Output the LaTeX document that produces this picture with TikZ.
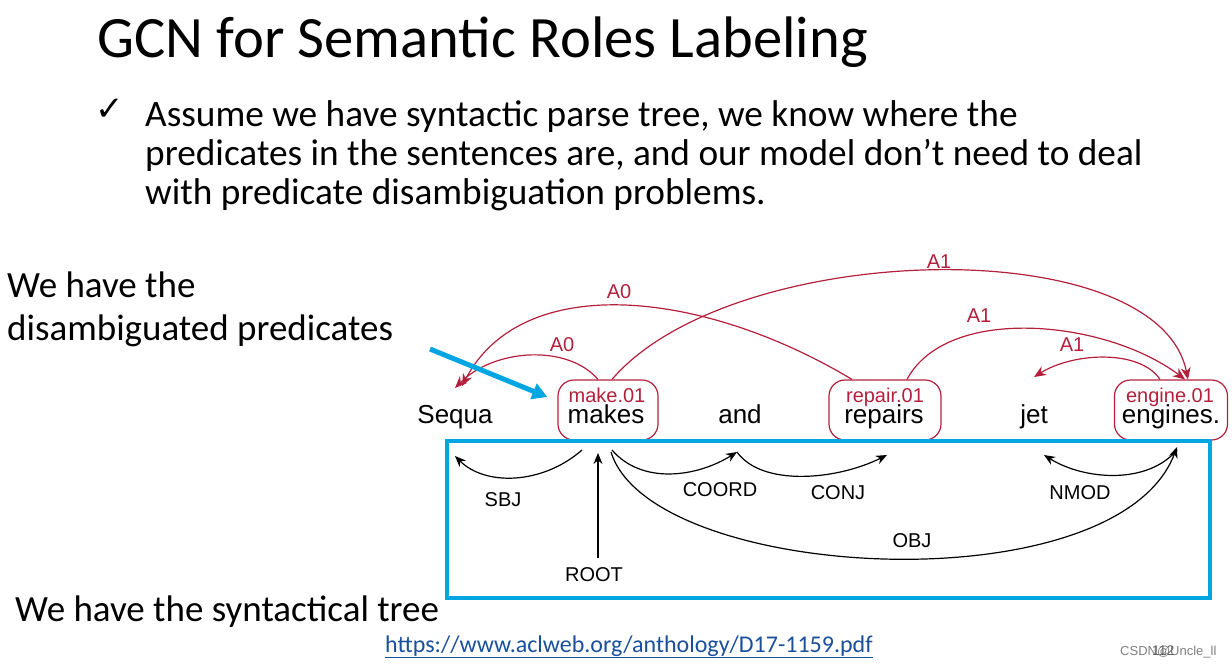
\documentclass[tikz,border=0pt]{standalone}
\usepackage{fontspec}
\setmainfont{Carlito}
\newfontfamily\diafont{Liberation Sans}
\newfontfamily\symfont{DejaVu Sans}
\usetikzlibrary{arrows.meta}
\definecolor{ArgRed}{HTML}{B3203C}
\definecolor{BoxBlue}{HTML}{00A6E2}
\definecolor{LinkBlue}{HTML}{1A4F9C}

\begin{document}
\begin{tikzpicture}[x=1pt,y=1pt,
    slide/.style={anchor=base west,inner sep=0pt},
    word/.style={font=\diafont\fontsize{26}{28}\selectfont,anchor=base,inner sep=0pt},
    sense/.style={font=\diafont\fontsize{20}{22}\selectfont,text=ArgRed,anchor=base,inner sep=0pt},
    predbox/.style={draw=ArgRed,line width=1.2pt,rounded corners=16pt,minimum height=60pt},
    arglbl/.style={font=\diafont\fontsize{20}{22}\selectfont,text=ArgRed,inner sep=1pt},
    deplbl/.style={font=\diafont\fontsize{20}{22}\selectfont,inner sep=1pt},
    arg/.style={draw=ArgRed,line width=1.2pt,-{Stealth[length=12pt,width=10pt]}},
    dep/.style={draw=black,line width=1.2pt,-{Stealth[length=11pt,width=9pt]}}]
    \useasboundingbox (0,0) rectangle (1232,-667);

    % slide text
    \node[slide,font=\fontsize{58.6}{64}\selectfont] (title) at (97,-57) {GCN for Semantic Roles Labeling};
    \node[inner sep=0pt,font=\symfont\fontsize{34}{36}\selectfont] (tick) at (110,-110) {✓};
    \node[slide,font=\fontsize{37.3}{41}\selectfont] (line1) at (145,-126) {Assume we have syntactic parse tree, we know where the};
    \node[slide,font=\fontsize{37.3}{41}\selectfont] (line2) at (145,-165) {predicates in the sentences are, and our model don’t need to deal};
    \node[slide,font=\fontsize{37.3}{41}\selectfont] (line3) at (145,-204) {with predicate disambiguation problems.};
    \node[slide,font=\fontsize{37}{43}\selectfont] (pred1) at (7,-297) {We have the};
    \node[slide,font=\fontsize{37}{43}\selectfont] (pred2) at (7,-340) {disambiguated predicates};
    \node[slide,font=\fontsize{37}{43}\selectfont] (tree) at (15,-621) {We have the syntactical tree};

    % predicate boxes
    \node[predbox,minimum width=100pt] (makebox) at (608,-410) {};
    \node[predbox,minimum width=112pt] (repairbox) at (885,-410) {};
    \node[predbox,minimum width=113pt] (enginebox) at (1171,-410) {};

    % sentence
    \node[word] (sequa) at (455,-423) {Sequa};
    \node[word] (makes) at (606,-423) {makes};
    \node[word] (and) at (740,-423) {and};
    \node[word] (repairs) at (884,-423) {repairs};
    \node[word] (jet) at (1034,-423) {jet};
    \node[word] (engines) at (1171,-423) {engines.};
    \node[sense] (makesense) at (607,-402) {make.01};
    \node[sense] (repairsense) at (885,-402) {repair.01};
    \node[sense] (enginesense) at (1170,-402) {engine.01};

    % semantic roles
    \draw[arg] ([xshift=-10pt]makebox.north) .. controls +(-30,35) and +(40,40) .. ([yshift=35pt]sequa.base);
    \draw[arg] ([xshift=-33pt]repairbox.north) .. controls +(-150,90) and +(60,115) .. ([shift={(7pt,37pt)}]sequa.base);
    \draw[arg] ([xshift=4pt]makebox.north) .. controls +(120,140) and +(-30,150) .. ([xshift=17pt]enginebox.north);
    \draw[arg] ([xshift=22pt]repairbox.north) .. controls +(40,75) and +(-80,60) .. ([xshift=14pt]enginebox.north);
    \draw[arg] ([xshift=-11pt]enginebox.north) .. controls +(-20,30) and +(40,25) .. ([yshift=46pt]jet.base);
    \node[arglbl] (a0short) at (562,-345) {A0};
    \node[arglbl] (a0long) at (619,-292) {A0};
    \node[arglbl] (a1long) at (939,-262) {A1};
    \node[arglbl] (a1mid) at (979,-316) {A1};
    \node[arglbl] (a1short) at (1072,-345) {A1};

    % syntactic dependencies
    \node[deplbl] (sbj) at (503,-500) {SBJ};
    \node[deplbl] (root) at (594,-575) {ROOT};
    \node[deplbl] (coord) at (720,-490) {COORD};
    \node[deplbl] (conj) at (838,-493) {CONJ};
    \node[deplbl] (obj) at (912,-541) {OBJ};
    \node[deplbl] (nmod) at (1080,-493) {NMOD};
    \draw[dep] ([shift={(-24pt,-27pt)}]makes.base) .. controls +(-40,-35) and +(30,-30) .. ([yshift=-33pt]sequa.base);
    \draw[dep] ([xshift=4pt,yshift=9pt]root.north) -- ([shift={(-8pt,-30pt)}]makes.base);
    \draw[dep] ([shift={(6pt,-27pt)}]makes.base) .. controls +(30,-35) and +(-40,-25) .. ([shift={(-3pt,-29pt)}]and.base);
    \draw[dep] ([shift={(-3pt,-29pt)}]and.base) .. controls +(25,-35) and +(-50,-25) .. ([shift={(3pt,-32pt)}]repairs.base);
    \draw[dep] ([shift={(5pt,-29pt)}]makes.base) .. controls +(40,-130) and +(-60,-160) .. ([shift={(6pt,-24pt)}]engines.base);
    \draw[dep] ([shift={(6pt,-27pt)}]engines.base) .. controls +(-30,-35) and +(40,-25) .. ([shift={(10pt,-32pt)}]jet.base);

    % frame and pointer
    \draw[draw=BoxBlue,line width=4pt] (447,-441) rectangle (1210,-598);
    \coordinate (pointer) at (430,-349);
    \draw[draw=BoxBlue,line width=5pt,-{Triangle[length=15pt,width=16pt]}] (pointer) -- ([shift={(-10pt,13pt)}]makebox.west);

    % footer
    \node[slide,font=\fontsize{24}{28}\selectfont,text=LinkBlue] (url) at (385,-652) {\underline{https://www.aclweb.org/anthology/D17-1159.pdf}};
    \node[slide,font=\diafont\fontsize{13}{15}\selectfont,text=gray] (mark) at (1120,-655) {CSDN@Uncle\_ll};
    \node[slide,font=\diafont\fontsize{14}{15}\selectfont,text=gray!80!black] (page) at (1152,-655) {112};
\end{tikzpicture}
\end{document}
